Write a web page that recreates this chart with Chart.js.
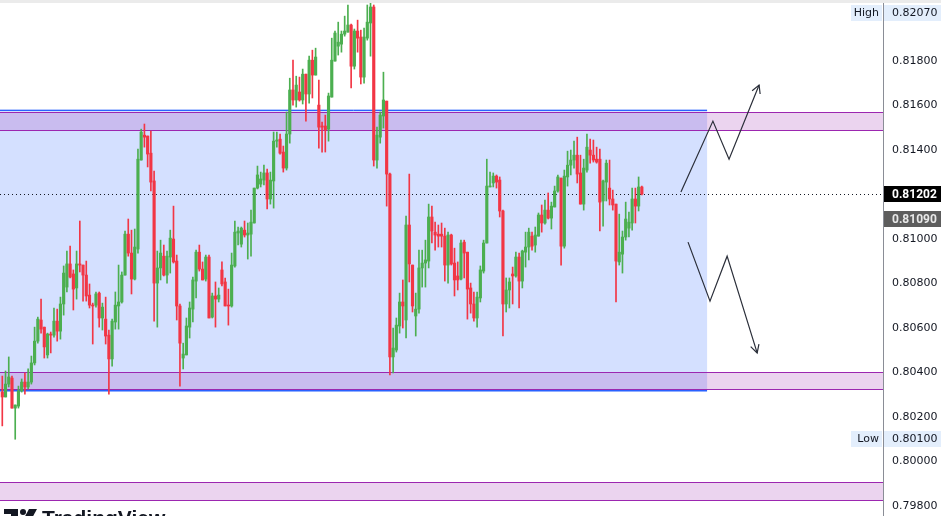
<!DOCTYPE html>
<html>
<head>
<meta charset="utf-8">
<title>USD/CHF range</title>
<script src="https://cdn.jsdelivr.net/npm/chart.js@4.4.0/dist/chart.umd.min.js"></script>
<style>
  html, body { margin: 0; padding: 0; background: #fff; }
  #wrap { width: 941px; height: 516px; position: relative; overflow: hidden; }
</style>
</head>
<body>
<div id="wrap"><canvas id="chart" width="941" height="516"></canvas></div>
<script>
// Candles, oldest first
const opens = [
  0.80312, 0.80290, 0.80348, 0.80375, 0.80240, 0.80249, 0.80317, 0.80357, 0.80335, 0.80357,
  0.80443, 0.80541, 0.80636, 0.80604, 0.80479, 0.80573, 0.80568, 0.80631, 0.80586, 0.80708,
  0.80784, 0.80888, 0.80843, 0.80780, 0.80888, 0.80883, 0.80838, 0.80748, 0.80703, 0.80703,
  0.80757, 0.80645, 0.80640, 0.80568, 0.80461, 0.80627, 0.80699, 0.80717, 0.80838, 0.81022,
  0.80937, 0.80820, 0.80955, 0.81355, 0.81467, 0.81463, 0.81386, 0.81261, 0.80802, 0.80870,
  0.80923, 0.80838, 0.80919, 0.81000, 0.80901, 0.80699, 0.80465, 0.80479, 0.80604, 0.80685,
  0.80811, 0.80941, 0.80865, 0.80820, 0.80919, 0.80649, 0.80744, 0.80730, 0.80861, 0.80807,
  0.80703, 0.80699, 0.80879, 0.81027, 0.80977, 0.81040, 0.81018, 0.81022, 0.81072, 0.81229,
  0.81247, 0.81265, 0.81297, 0.81180, 0.81261, 0.81440, 0.81449, 0.81391, 0.81319, 0.81472,
  0.81670, 0.81625, 0.81661, 0.81625, 0.81741, 0.81652, 0.81804, 0.81737, 0.81602, 0.81508,
  0.81508, 0.81494, 0.81638, 0.81800, 0.81867, 0.81876, 0.81921, 0.81930, 0.81962, 0.81777,
  0.81935, 0.81908, 0.81728, 0.81903, 0.81971, 0.82043, 0.81355, 0.81458, 0.81553, 0.81620,
  0.81292, 0.80470, 0.80501, 0.80609, 0.80717, 0.80636, 0.81063, 0.80883, 0.80654, 0.80685,
  0.80870, 0.80892, 0.80901, 0.81099, 0.81031, 0.81022, 0.81022, 0.81013, 0.80883, 0.81018,
  0.80892, 0.80834, 0.80820, 0.80986, 0.80941, 0.80780, 0.80708, 0.80645, 0.80735, 0.80856,
  0.80982, 0.81234, 0.81252, 0.81283, 0.81265, 0.81126, 0.80708, 0.80771, 0.80843, 0.80834,
  0.80919, 0.80811, 0.80941, 0.80964, 0.81013, 0.80973, 0.81013, 0.81108, 0.81072, 0.81130,
  0.81094, 0.81144, 0.81216, 0.81274, 0.80968, 0.81279, 0.81332, 0.81355, 0.81377, 0.81297,
  0.81157, 0.81310, 0.81400, 0.81377, 0.81359, 0.81359, 0.81171, 0.81256, 0.81229, 0.81180,
  0.81157, 0.80897, 0.80932, 0.81009, 0.81049, 0.81072, 0.81180, 0.81148, 0.81234
];
const highs = [
  0.80384, 0.80407, 0.80470, 0.80384, 0.80254, 0.80339, 0.80371, 0.80398, 0.80416, 0.80474,
  0.80604, 0.80649, 0.80730, 0.80604, 0.80577, 0.80582, 0.80690, 0.80685, 0.80739, 0.80879,
  0.80946, 0.80968, 0.80861, 0.80946, 0.81081, 0.80883, 0.80901, 0.80798, 0.80712, 0.80762,
  0.80762, 0.80712, 0.80739, 0.80591, 0.80640, 0.80762, 0.80883, 0.80852, 0.81036, 0.81090,
  0.81040, 0.81045, 0.81404, 0.81494, 0.81517, 0.81463, 0.81485, 0.81306, 0.80946, 0.80995,
  0.80973, 0.80946, 0.81040, 0.81148, 0.80928, 0.80708, 0.80532, 0.80645, 0.80717, 0.80829,
  0.80950, 0.80973, 0.80897, 0.80928, 0.80928, 0.80757, 0.80807, 0.80780, 0.80897, 0.80825,
  0.80775, 0.80937, 0.81081, 0.81054, 0.81054, 0.81081, 0.81072, 0.81130, 0.81229, 0.81328,
  0.81301, 0.81332, 0.81315, 0.81301, 0.81481, 0.81481, 0.81472, 0.81418, 0.81571, 0.81723,
  0.81804, 0.81732, 0.81728, 0.81764, 0.81741, 0.81822, 0.81849, 0.81858, 0.81714, 0.81526,
  0.81557, 0.81656, 0.81903, 0.81935, 0.81975, 0.81935, 0.82002, 0.82052, 0.81966, 0.81944,
  0.81984, 0.81939, 0.81948, 0.82052, 0.82070, 0.82052, 0.81503, 0.81571, 0.81750, 0.81620,
  0.81297, 0.80600, 0.80645, 0.80757, 0.80816, 0.81103, 0.81292, 0.80883, 0.80757, 0.80950,
  0.80950, 0.80995, 0.81157, 0.81148, 0.81076, 0.81063, 0.81072, 0.81049, 0.81031, 0.81022,
  0.80959, 0.80897, 0.80995, 0.80995, 0.80941, 0.80802, 0.80762, 0.80762, 0.80879, 0.80995,
  0.81359, 0.81301, 0.81297, 0.81288, 0.81279, 0.81130, 0.80825, 0.80825, 0.80874, 0.80941,
  0.80937, 0.80950, 0.81031, 0.81049, 0.81031, 0.81054, 0.81117, 0.81153, 0.81175, 0.81207,
  0.81166, 0.81238, 0.81288, 0.81274, 0.81310, 0.81395, 0.81400, 0.81440, 0.81458, 0.81377,
  0.81359, 0.81472, 0.81449, 0.81445, 0.81413, 0.81404, 0.81265, 0.81355, 0.81355, 0.81220,
  0.81157, 0.81112, 0.81036, 0.81166, 0.81121, 0.81229, 0.81229, 0.81279, 0.81238
];
const lows = [
  0.80160, 0.80290, 0.80335, 0.80240, 0.80100, 0.80240, 0.80312, 0.80303, 0.80326, 0.80348,
  0.80434, 0.80532, 0.80577, 0.80465, 0.80465, 0.80488, 0.80559, 0.80541, 0.80550, 0.80658,
  0.80762, 0.80825, 0.80681, 0.80730, 0.80852, 0.80721, 0.80721, 0.80690, 0.80528, 0.80694,
  0.80604, 0.80591, 0.80528, 0.80303, 0.80429, 0.80595, 0.80595, 0.80712, 0.80838, 0.80923,
  0.80753, 0.80816, 0.80937, 0.81355, 0.81413, 0.81324, 0.81216, 0.80631, 0.80604, 0.80816,
  0.80834, 0.80802, 0.80847, 0.80892, 0.80636, 0.80339, 0.80416, 0.80479, 0.80555, 0.80627,
  0.80735, 0.80856, 0.80816, 0.80811, 0.80645, 0.80645, 0.80604, 0.80717, 0.80789, 0.80699,
  0.80613, 0.80694, 0.80874, 0.80973, 0.80964, 0.81009, 0.80910, 0.80923, 0.81072, 0.81225,
  0.81234, 0.81243, 0.81135, 0.81157, 0.81139, 0.81413, 0.81382, 0.81301, 0.81310, 0.81431,
  0.81602, 0.81593, 0.81620, 0.81607, 0.81530, 0.81611, 0.81634, 0.81737, 0.81409, 0.81391,
  0.81391, 0.81440, 0.81638, 0.81800, 0.81827, 0.81840, 0.81912, 0.81930, 0.81679, 0.81764,
  0.81840, 0.81697, 0.81701, 0.81894, 0.81822, 0.81328, 0.81319, 0.81431, 0.81499, 0.81148,
  0.80389, 0.80398, 0.80492, 0.80577, 0.80600, 0.80555, 0.80807, 0.80672, 0.80564, 0.80667,
  0.80784, 0.80784, 0.80870, 0.80982, 0.80950, 0.80964, 0.80964, 0.80811, 0.80802, 0.80883,
  0.80744, 0.80771, 0.80816, 0.80825, 0.80640, 0.80667, 0.80631, 0.80604, 0.80717, 0.80847,
  0.80982, 0.81234, 0.81234, 0.81229, 0.81099, 0.80564, 0.80672, 0.80690, 0.80708, 0.80829,
  0.80690, 0.80780, 0.80874, 0.80906, 0.80950, 0.80941, 0.81013, 0.81031, 0.81067, 0.81090,
  0.81045, 0.81144, 0.81211, 0.80883, 0.80959, 0.81238, 0.81288, 0.81319, 0.81252, 0.81157,
  0.81130, 0.81301, 0.81341, 0.81346, 0.81341, 0.81036, 0.81058, 0.81171, 0.81153, 0.81130,
  0.80717, 0.80883, 0.80847, 0.80995, 0.81009, 0.81040, 0.81072, 0.81126, 0.81198
];
const closes = [
  0.80290, 0.80348, 0.80380, 0.80240, 0.80254, 0.80317, 0.80357, 0.80335, 0.80357, 0.80443,
  0.80541, 0.80640, 0.80595, 0.80515, 0.80573, 0.80568, 0.80631, 0.80586, 0.80708, 0.80847,
  0.80888, 0.80829, 0.80775, 0.80888, 0.80883, 0.80838, 0.80744, 0.80703, 0.80699, 0.80753,
  0.80645, 0.80694, 0.80564, 0.80461, 0.80631, 0.80703, 0.80717, 0.80838, 0.81022, 0.80937,
  0.80820, 0.80964, 0.81359, 0.81481, 0.81458, 0.81382, 0.81256, 0.80802, 0.80870, 0.80937,
  0.80838, 0.80923, 0.81004, 0.80897, 0.80699, 0.80532, 0.80483, 0.80609, 0.80690, 0.80816,
  0.80941, 0.80865, 0.80816, 0.80919, 0.80645, 0.80744, 0.80730, 0.80748, 0.80798, 0.80699,
  0.80699, 0.80883, 0.81031, 0.81036, 0.81049, 0.81018, 0.81027, 0.81076, 0.81229, 0.81288,
  0.81270, 0.81297, 0.81180, 0.81265, 0.81440, 0.81445, 0.81386, 0.81319, 0.81472, 0.81670,
  0.81625, 0.81692, 0.81625, 0.81741, 0.81652, 0.81804, 0.81737, 0.81818, 0.81503, 0.81503,
  0.81490, 0.81643, 0.81804, 0.81926, 0.81885, 0.81921, 0.81935, 0.81962, 0.81777, 0.81935,
  0.81903, 0.81728, 0.81908, 0.81975, 0.82043, 0.81355, 0.81467, 0.81557, 0.81625, 0.81292,
  0.80470, 0.80510, 0.80613, 0.80717, 0.80699, 0.81063, 0.80888, 0.80699, 0.80685, 0.80870,
  0.80892, 0.80906, 0.81099, 0.81036, 0.81018, 0.81013, 0.81013, 0.80883, 0.81018, 0.80888,
  0.80816, 0.80816, 0.80982, 0.80937, 0.80775, 0.80708, 0.80645, 0.80739, 0.80861, 0.80982,
  0.81238, 0.81238, 0.81283, 0.81256, 0.81126, 0.80708, 0.80771, 0.80807, 0.80834, 0.80919,
  0.80811, 0.80946, 0.80964, 0.81031, 0.80968, 0.81018, 0.81108, 0.81072, 0.81130, 0.81094,
  0.81148, 0.81216, 0.81279, 0.80968, 0.81283, 0.81332, 0.81355, 0.81377, 0.81292, 0.81157,
  0.81319, 0.81413, 0.81377, 0.81355, 0.81346, 0.81166, 0.81261, 0.81341, 0.81180, 0.81153,
  0.80901, 0.80941, 0.81009, 0.81090, 0.81076, 0.81180, 0.81148, 0.81234, 0.81202
];

// Price axis
const priceTicks = [0.79800, 0.80000, 0.80200, 0.80400, 0.80600, 0.80800, 0.81000, 0.81400, 0.81600, 0.81800];
const priceMin = 0.79755;
const priceMax = 0.82061;
const barMin = -0.71;     // bar index at left edge
const barMax = 272.66;    // bar index at price axis

// Price tags on the axis
const lastPrice = 0.81202;
const otherPrice = 0.81090;
const dayHigh = 0.82070;
const dayLow = 0.80100;

// Drawings: range box, supply/demand zones, scenario paths
const rangeBox = { top: 0.81580, bottom: 0.80321, endBar: 218.2 };
const zones = [
  [0.81571, 0.81490],
  [0.80402, 0.80326],
  [0.79908, 0.79827]
];
const upPath = [
  { x: 210.1, y: 0.81211 }, { x: 220.0, y: 0.81530 },
  { x: 225.0, y: 0.81359 }, { x: 234.3, y: 0.81692 }
];
const downPath = [
  { x: 212.3, y: 0.80986 }, { x: 219.1, y: 0.80721 },
  { x: 224.4, y: 0.80923 }, { x: 233.7, y: 0.80488 }
];

const UP = '#4caf50';
const DOWN = '#f23645';
const AXIS_FONT = '11px "DejaVu Sans"';
const TAG_FONT = 'bold 12px Roboto';
const candleColors = closes.map((c, i) => (c >= opens[i] ? UP : DOWN));

const wickData = opens.map((o, i) => ({ x: i, y: [lows[i], highs[i]] }));
const bodyData = opens.map((o, i) => ({ x: i, y: [o, closes[i]] }));

function hLine(ctx, x1, x2, y, color, width) {
  ctx.strokeStyle = color;
  ctx.lineWidth = width;
  ctx.beginPath();
  ctx.moveTo(x1, y);
  ctx.lineTo(x2, y);
  ctx.stroke();
}

function priceTag(ctx, yc, bg, fg, text, font) {
  const yy = Math.round(yc);
  ctx.fillStyle = bg;
  ctx.fillRect(884, yy - 8, 57, 16);
  ctx.fillStyle = fg;
  ctx.font = font;
  ctx.textAlign = 'left';
  ctx.textBaseline = 'middle';
  ctx.fillText(text, 892, yy + 0.5);
}

const overlayPlugin = {
  id: 'overlay',
  beforeDatasetsDraw(chart) {
    const { ctx, chartArea: a, scales: { x, y } } = chart;
    ctx.save();
    ctx.fillStyle = '#ebebeb';
    ctx.fillRect(0, 0, chart.width, a.top);

    ctx.beginPath();
    ctx.rect(a.left, a.top, a.right - a.left, a.bottom - a.top);
    ctx.clip();

    // range box
    const bx2 = x.getPixelForValue(rangeBox.endBar);
    const by1 = Math.round(y.getPixelForValue(rangeBox.top));
    const by2 = Math.round(y.getPixelForValue(rangeBox.bottom));
    ctx.fillStyle = 'rgba(41, 98, 255, 0.2)';
    ctx.fillRect(a.left, by1, bx2 - a.left, by2 - by1);
    hLine(ctx, a.left, bx2, by1 - 0.5, 'rgba(41, 98, 255, 0.35)', 1);
    hLine(ctx, a.left, bx2, by1 + 0.5, '#2962ff', 1);
    hLine(ctx, a.left, bx2, by2 + 0.5, '#2962ff', 1.5);
    hLine(ctx, a.left, bx2, by2 + 1.5, 'rgba(41, 98, 255, 0.35)', 1);

    // zones
    zones.forEach(([top, bottom]) => {
      const t = Math.round(y.getPixelForValue(top));
      const b = Math.round(y.getPixelForValue(bottom));
      ctx.fillStyle = 'rgba(156, 39, 176, 0.2)';
      ctx.fillRect(a.left, t, a.right - a.left, b - t);
      hLine(ctx, a.left, a.right, t + 0.5, '#9c27b0', 1.2);
      hLine(ctx, a.left, a.right, b + 0.5, '#9c27b0', 1.2);
    });

    // last price dotted line
    ctx.setLineDash([1, 3]);
    hLine(ctx, a.left, a.right, Math.round(y.getPixelForValue(lastPrice)) + 0.5, '#131722', 1.2);
    ctx.restore();
  },
  afterDatasetsDraw(chart) {
    const { ctx, scales: { x, y } } = chart;
    ctx.save();
    ctx.strokeStyle = '#2a2e39';
    ctx.lineWidth = 1.2;
    [upPath, downPath].forEach(path => {
      const p1 = path[path.length - 2];
      const p2 = path[path.length - 1];
      const x1 = x.getPixelForValue(p1.x), y1 = y.getPixelForValue(p1.y);
      const x2 = x.getPixelForValue(p2.x), y2 = y.getPixelForValue(p2.y);
      const ang = Math.atan2(y2 - y1, x2 - x1);
      const len = 9;
      ctx.beginPath();
      ctx.moveTo(x2 - len * Math.cos(ang - 0.5), y2 - len * Math.sin(ang - 0.5));
      ctx.lineTo(x2, y2);
      ctx.lineTo(x2 - len * Math.cos(ang + 0.5), y2 - len * Math.sin(ang + 0.5));
      ctx.stroke();
    });
    ctx.restore();
  },
  afterDraw(chart) {
    const { ctx, scales: { y } } = chart;
    ctx.save();
    // high / low tags
    const hy = Math.max(y.getPixelForValue(dayHigh), 12.5);
    const ly = y.getPixelForValue(dayLow);
    [[hy, 'High', dayHigh], [ly, 'Low', dayLow]].forEach(([yc, name, val]) => {
      const yy = Math.round(yc);
      ctx.fillStyle = '#e3eefc';
      ctx.fillRect(851, yy - 8, 31, 16);
      ctx.fillStyle = '#131722';
      ctx.font = AXIS_FONT;
      ctx.textAlign = 'right';
      ctx.textBaseline = 'middle';
      ctx.fillText(name, 879, yy + 0.5);
      priceTag(ctx, yc, '#e3eefc', '#131722', val.toFixed(5), AXIS_FONT);
    });
    priceTag(ctx, y.getPixelForValue(lastPrice), '#000000', '#ffffff', lastPrice.toFixed(5), TAG_FONT);
    priceTag(ctx, y.getPixelForValue(otherPrice), '#5d5d5d', '#e8e8e8', otherPrice.toFixed(5), TAG_FONT);

    // watermark logo
    ctx.fillStyle = '#131722';
    ctx.fillRect(4, 509, 14, 5);
    ctx.fillRect(11, 509, 7, 12);
    ctx.beginPath();
    ctx.arc(23, 512, 3, 0, Math.PI * 2);
    ctx.fill();
    ctx.beginPath();
    ctx.moveTo(29, 509);
    ctx.lineTo(37, 509);
    ctx.lineTo(31, 520);
    ctx.lineTo(23, 520);
    ctx.closePath();
    ctx.fill();
    ctx.font = 'bold 21px "Liberation Sans"';
    ctx.textAlign = 'left';
    ctx.textBaseline = 'alphabetic';
    ctx.fillText('TradingView', 42, 525);
    ctx.restore();
  }
};

new Chart(document.getElementById('chart').getContext('2d'), {
  type: 'bar',
  data: {
    datasets: [
      {
        type: 'line',
        data: upPath,
        borderColor: '#2a2e39',
        borderWidth: 1.2,
        pointRadius: 0,
        tension: 0,
        fill: false
      },
      {
        type: 'line',
        data: downPath,
        borderColor: '#2a2e39',
        borderWidth: 1.2,
        pointRadius: 0,
        tension: 0,
        fill: false
      },
      {
        label: 'wick',
        data: wickData,
        backgroundColor: candleColors,
        barThickness: 1,
        grouped: false,
        borderWidth: 0
      },
      {
        label: 'body',
        data: bodyData,
        backgroundColor: candleColors,
        barThickness: 2.5,
        minBarLength: 1,
        grouped: false,
        borderWidth: 0
      }
    ]
  },
  options: {
    responsive: false,
    animation: false,
    devicePixelRatio: 1,
    layout: { padding: { top: 3, left: 0, right: 0, bottom: 0 } },
    plugins: {
      legend: { display: false },
      tooltip: { enabled: false }
    },
    scales: {
      x: {
        type: 'linear',
        display: false,
        offset: false,
        min: barMin,
        max: barMax
      },
      y: {
        type: 'linear',
        position: 'right',
        min: priceMin,
        max: priceMax,
        grid: { display: false, drawTicks: false },
        border: { display: true, color: '#8a8d96' },
        ticks: {
          padding: 9,
          color: '#131722',
          font: { family: 'DejaVu Sans', size: 11 },
          callback: v => v.toFixed(5)
        },
        afterBuildTicks: axis => {
          axis.ticks = priceTicks.map(v => ({ value: v }));
        },
        afterFit: axis => {
          axis.width = 58;
          axis.paddingTop = 0;
          axis.paddingBottom = 0;
        }
      }
    }
  },
  plugins: [overlayPlugin]
});
</script>
</body>
</html>
